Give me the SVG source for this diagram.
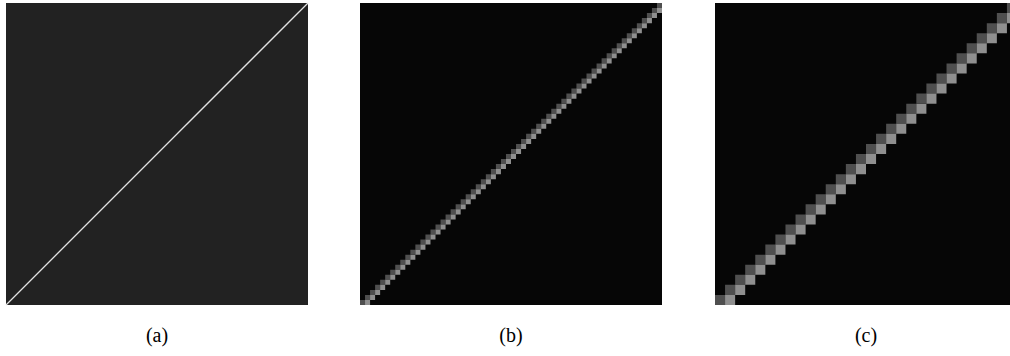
<svg xmlns="http://www.w3.org/2000/svg" xmlns:xlink="http://www.w3.org/1999/xlink" width="1010" height="356" viewBox="0 0 1010 356">
  <style>
    .dim { fill: #4f4f4f; }
    .lit { fill: #8f8f8f; }
    .black { fill: #060606; }
    .label { font-family: "Liberation Serif", "Times New Roman", serif; font-size: 20px; fill: #000; text-anchor: middle; }
  </style>
  <defs>
    <g id="u10">
      <path class="dim" d="M0 0h1v1h-1z m1-1h1v1h-1z m1-1h1v1h-1z m1-1h1v1h-1z m1-1h1v1h-1z m1-1h1v1h-1z m1-1h1v1h-1z m1-1h1v1h-1z m1-1h1v1h-1z m1-1h1v1h-1z"/>
      <path class="lit" d="M1 0h1v1h-1z m1-1h1v1h-1z m1-1h1v1h-1z m1-1h1v1h-1z m1-1h1v1h-1z m1-1h1v1h-1z m1-1h1v1h-1z m1-1h1v1h-1z m1-1h1v1h-1z m1-1h1v1h-1z"/>
    </g>
    <clipPath id="clipB"><rect x="360" y="3" width="302" height="302"/></clipPath>
    <clipPath id="clipC"><rect x="715" y="3" width="295" height="302"/></clipPath>
  </defs>

  <g id="panel-a">
    <rect x="6" y="3" width="302" height="302" fill="#222222"/>
    <line x1="6" y1="305" x2="308" y2="3" stroke="#e2e2e2" stroke-width="1.3"/>
    <text class="label" x="157" y="342">(a)</text>
  </g>

  <g id="panel-b">
    <rect class="black" x="360" y="3" width="302" height="302"/>
    <g clip-path="url(#clipB)">
      <g transform="translate(360,3) scale(5.03333)">
        <use xlink:href="#u10" x="0" y="59"/>
        <use xlink:href="#u10" x="10" y="49"/>
        <use xlink:href="#u10" x="20" y="39"/>
        <use xlink:href="#u10" x="30" y="29"/>
        <use xlink:href="#u10" x="40" y="19"/>
        <use xlink:href="#u10" x="50" y="9"/>
      </g>
    </g>
    <text class="label" x="511" y="342">(b)</text>
  </g>

  <g id="panel-c">
    <rect class="black" x="715" y="3" width="295" height="302"/>
    <g clip-path="url(#clipC)">
      <g transform="translate(715,3) scale(10.06667)">
        <use xlink:href="#u10" x="0" y="29"/>
        <use xlink:href="#u10" x="10" y="19"/>
        <use xlink:href="#u10" x="20" y="9"/>
      </g>
    </g>
    <text class="label" x="866" y="342">(c)</text>
  </g>

  <g id="connectors"/>
</svg>
